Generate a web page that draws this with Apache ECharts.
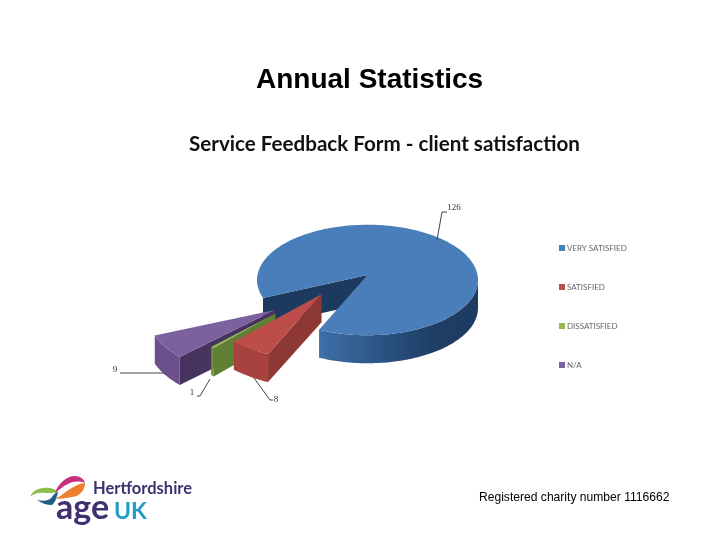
<!DOCTYPE html>
<html>
<head>
<meta charset="utf-8">
<style>
  html, body { margin: 0; padding: 0; background: #fff; }
  #chart { width: 720px; height: 540px; }
</style>
<script src="https://cdn.jsdelivr.net/npm/echarts@6/dist/echarts.min.js"></script>
</head>
<body>
<div id="chart"></div>
<script>
const categories = ['VERY SATISFIED', 'SATISFIED', 'DISSATISFIED', 'N/A']
const values = [126, 8, 1, 9]

// look of the tilted pie
const cx = 367.5
const cy = 280
const squash = 0.5
const apexLift = -5
const depth = 28
const startAngle = 161

const sliceStyle = [
  {
    r: 110.5, explode: 0, dir: 140, z: 1, top: '#4a7ebb', startWall: '#1b3a5e',
    rim: [[0, '#3f6fa8'], [0.3, '#2f5a8c'], [0.7, '#1f3f66'], [1, '#1e3b60']]
  },
  { r: 122, explode: 60, dir: 140, z: 4, top: '#bd4d4a', startWall: '#8e3835', rim: [[0, '#a8423f'], [1, '#a8423f']] },
  { r: 86, explode: 120, dir: 140, z: 3, top: '#98b954', startWall: '#5f7f34', rim: [[0, '#6d8f3c'], [1, '#6d8f3c']] },
  { r: 127, explode: 116, dir: 143, z: 2, top: '#7d60a0', startWall: '#463360', rim: [[0, '#6b4f8c'], [1, '#6b4f8c']] }
]

const leaderLines = [
  { text: [454, 208], line: [[437, 240], [442, 212], [447, 212]] },
  { text: [276, 400], line: [[254, 378], [270, 400], [273, 400]] },
  { text: [192, 393], line: [[210, 379], [200, 396], [197, 396]] },
  { text: [115, 370], line: [[164, 373], [125, 373], [120, 373]] }
]

const logoShapes = [
  { d: 'M30 497 C33 489 42 487 50 488 C54 489 57 490 58 492 C54 493 50 493 46 493 C38 492 33 494 30 497 Z', fill: '#8cbe4a' },
  { d: 'M37 500 C44 502 50 500 52 497 C54 494 56 492 58 492 C57 497 55 503 52 505 C47 505 41 503 37 500 Z', fill: '#1f5f8a' },
  { d: 'M55 493 C58 484 66 476 75 476 C80 476 84 479 85 483 C80 481 74 481 68 484 C63 486 59 490 55 493 Z', fill: '#c9307f' },
  { d: 'M55 499 C60 497 65 492 70 489 C76 485 81 483 85 483 C85 490 80 496 72 497 C66 498 60 499 55 499 Z', fill: '#ee7f2d' }
]

const total = values.reduce((a, b) => a + b, 0)

function sliceAngles(index) {
  let a = startAngle
  for (let i = 0; i < index; i++) a += values[i] / total * 360
  return [a, a + values[index] / total * 360]
}

function rad(deg) {
  return deg * Math.PI / 180
}

function rimPolygon(run, stops) {
  const xs = run.map(p => p[0])
  return {
    type: 'polygon',
    shape: { points: run.concat(run.slice().reverse().map(p => [p[0], p[1] + depth])) },
    style: {
      fill: new echarts.graphic.LinearGradient(Math.min(...xs), 0, Math.max(...xs), 0,
        stops.map(([offset, color]) => ({ offset, color })), true)
    }
  }
}

function drawSlice(index) {
  const s = sliceStyle[index]
  const [a0, a1] = sliceAngles(index)
  const ox = cx + s.explode * Math.cos(rad(s.dir))
  const oy = cy + s.explode * Math.sin(rad(s.dir)) * squash
  const apex = [ox, oy + apexLift]
  const at = (deg) => [ox + s.r * Math.cos(rad(deg)), oy + s.r * squash * Math.sin(rad(deg))]

  const degs = []
  for (let d = a0; d < a1; d += 1.5) degs.push(d)
  degs.push(a1)
  const arc = degs.map(at)

  const children = []

  // flat side along the first edge, faces the viewer for every slice here
  const first = arc[0]
  children.push({
    type: 'polygon',
    shape: { points: [apex, first, [first[0], first[1] + depth], [apex[0], apex[1] + depth]] },
    style: { fill: s.startWall }
  })

  // rim: the wrapped part for the big slice, the whole arc for the others
  if (a1 > 360) {
    children.push(rimPolygon(degs.filter(d => d >= 360).map(at).reverse(), s.rim))
  } else {
    children.push(rimPolygon(arc, s.rim))
  }

  children.push({
    type: 'polygon',
    shape: { points: [apex].concat(arc) },
    style: { fill: s.top }
  })

  const lead = leaderLines[index]
  children.push({
    type: 'polyline',
    shape: { points: lead.line },
    style: { stroke: '#444', lineWidth: 1, fill: 'none' },
    z2: 10
  })
  children.push({
    type: 'text',
    x: lead.text[0],
    y: lead.text[1],
    style: {
      text: String(values[index]),
      font: '9px "Liberation Serif"',
      fill: '#333',
      align: 'center',
      verticalAlign: 'middle'
    },
    z2: 10
  })

  return { type: 'group', children }
}

function logoText(text, x, y, size, color) {
  return {
    type: 'text',
    x,
    y,
    style: { text, font: `bold ${size}px Lato`, fill: color, verticalAlign: 'bottom' }
  }
}

function drawLogo() {
  const children = logoShapes.map(s => ({
    type: 'path',
    shape: { pathData: s.d },
    style: { fill: s.fill }
  }))
  children.push(logoText('Hertfordshire', 93, 497, 16.5, '#40306f'))
  children.push(logoText('age', 56, 525, 34, '#40306f'))
  children.push(logoText('UK', 114, 523, 23, '#1f9ec4'))
  return { type: 'group', children }
}

const series = categories.map((name, i) => ({
  name,
  type: 'custom',
  coordinateSystem: 'none',
  z: sliceStyle[i].z,
  itemStyle: { color: sliceStyle[i].top },
  data: [values[i]],
  renderItem: () => drawSlice(i),
  silent: true
}))

series.push({
  name: 'logo',
  type: 'custom',
  coordinateSystem: 'none',
  data: [0],
  renderItem: drawLogo,
  silent: true
})

const chart = echarts.init(document.getElementById('chart'), null, { renderer: 'canvas' })
chart.setOption({
  animation: false,
  backgroundColor: '#fff',
  title: [
    {
      text: 'Annual Statistics',
      left: 256,
      top: 66,
      padding: 0,
      textStyle: { fontFamily: 'Liberation Sans', fontSize: 28, fontWeight: 'bold', color: '#000' }
    },
    {
      text: 'Service Feedback Form - client satisfaction',
      left: 189,
      top: 134,
      padding: 0,
      textStyle: { fontFamily: 'Lato', fontSize: 20.6, fontWeight: 'bold', color: '#111' }
    },
    {
      text: 'Registered charity number 1116662',
      left: 479,
      top: 492,
      padding: 0,
      textStyle: { fontFamily: 'Liberation Sans', fontSize: 12.1, fontWeight: 'normal', color: '#000' }
    }
  ],
  legend: {
    orient: 'vertical',
    left: 554,
    top: 239,
    itemWidth: 6,
    itemHeight: 6,
    itemGap: 31,
    icon: 'rect',
    selectedMode: false,
    data: categories,
    textStyle: { fontFamily: 'Lato', fontSize: 8, color: '#666', padding: [0, 0, 0, -3] }
  },
  series
})
</script>
</body>
</html>
